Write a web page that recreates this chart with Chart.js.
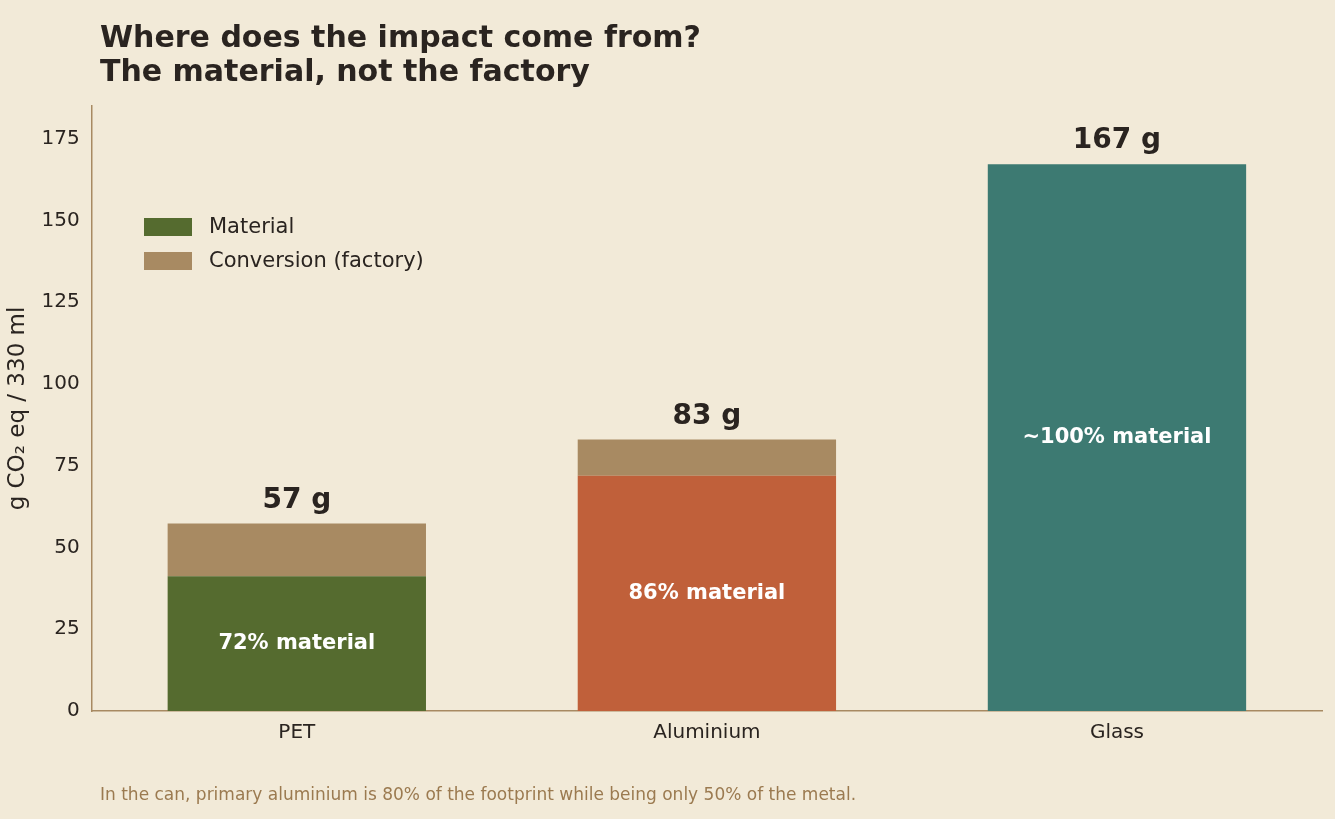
<!DOCTYPE html>
<html><head><meta charset="utf-8">
<script src="https://cdn.jsdelivr.net/npm/chart.js@4"></script>
<style>html,body{margin:0;background:#f2ead8;}#w{width:1335px;height:819px;}</style>
</head><body><div id="w"><canvas id="c"></canvas></div>
<script>
const categories = ["PET","Aluminium","Glass"];
const materialValues = [41.2, 71.9, 167.2];
const conversionValues = [16.1, 11.1, 0];
const totalLabels = ["57 g","83 g","167 g"];
const shareLabels = ["72% material","86% material","~100% material"];
const yTicks = [0,25,50,75,100,125,150,175];
const materialColors = ["#556b2f","#c0603a","#3d7a72"];
const conversionColor = "#a88a62";
const ink = "#2a2420";

const overlay = {
  id:'overlay',
  afterDatasetsDraw(ch){
    const c=ch.ctx, a=ch.chartArea, m0=ch.getDatasetMeta(0), m1=ch.getDatasetMeta(1);
    c.save();
    c.textAlign='center'; c.textBaseline='middle';
    categories.forEach((k,i)=>{
      const b=m0.data[i];
      c.fillStyle='#fff'; c.font='bold 21px "DejaVu Sans"';
      c.fillText(shareLabels[i], b.x, (b.y+b.base)/2);
      const topY = ch.scales.y.getPixelForValue(materialValues[i]+conversionValues[i]);
      c.fillStyle=ink; c.font='bold 28px "DejaVu Sans"';
      c.fillText(totalLabels[i], b.x, topY-23);
    });
    // title
    c.textAlign='left'; c.textBaseline='alphabetic';
    c.font='bold 30px "DejaVu Sans"'; c.fillStyle=ink;
    c.fillText('Where does the impact come from?', 100, 47);
    c.fillText('The material, not the factory', 100, 81);
    c.font='17px "DejaVu Sans"'; c.fillStyle='#9b7a50';
    c.fillText('In the can, primary aluminium is 80% of the footprint while being only 50% of the metal.', 100, 800);
    // legend
    const items=[['Material',materialColors[0]],['Conversion (factory)',conversionColor]];
    c.font='21px "DejaVu Sans"'; c.textBaseline='middle';
    items.forEach((it,j)=>{
      const y=227+j*34;
      c.fillStyle=it[1]; c.fillRect(144,y-9,48,18);
      c.fillStyle=ink; c.fillText(it[0],209,y+1);
    });
    c.restore();
  }
};

new Chart(document.getElementById('c'),{
  type:'bar',
  data:{labels:categories,datasets:[
    {label:'Material',data:materialValues,backgroundColor:materialColors,categoryPercentage:1,barPercentage:0.63},
    {label:'Conversion (factory)',data:conversionValues,backgroundColor:conversionColor,categoryPercentage:1,barPercentage:0.63}
  ]},
  options:{responsive:true,maintainAspectRatio:false,animation:false,
    layout:{padding:{top:106,bottom:70,right:13,left:0}},
    plugins:{legend:{display:false},tooltip:{enabled:false}},
    scales:{
      x:{stacked:true,grid:{display:false,drawTicks:true,tickColor:ink,tickLength:6},
        border:{color:conversionColor,width:1.5},
        ticks:{color:ink,font:{size:20,family:'DejaVu Sans'},padding:4}},
      y:{stacked:true,min:0,max:185,afterBuildTicks(ax){ax.ticks=yTicks.map(v=>({value:v}));},
        grid:{display:false,drawTicks:true,tickColor:ink,tickLength:6},
        border:{color:conversionColor,width:1.5},
        ticks:{color:ink,font:{size:20,family:'DejaVu Sans'},padding:6},
        title:{display:true,text:'g CO₂ eq / 330 ml',color:ink,font:{size:23,family:'DejaVu Sans'},padding:4}}
    }},
  plugins:[overlay]
});
</script></body></html>
